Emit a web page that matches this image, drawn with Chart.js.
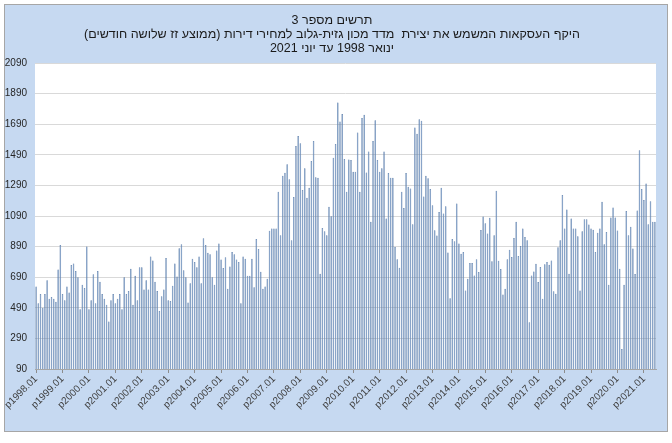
<!DOCTYPE html>
<html lang="he">
<head>
<meta charset="UTF-8">
<title>תרשים מספר 3</title>
<script src="https://cdn.jsdelivr.net/npm/chart.js@4.4.0/dist/chart.umd.min.js"></script>
<style>
  html, body { margin: 0; padding: 0; background: #ffffff; }
  #wrap { position: absolute; left: 0; top: 0; width: 672px; height: 443px; }
  #title {
    position: absolute; left: 0; top: 13px; width: 664px;
    font: 12.5px/14px "Liberation Sans", Arial, sans-serif;
    color: #1a1a1a;
  }
  #title div { direction: rtl; text-align: center; white-space: pre; }
</style>
</head>
<body>
<div id="wrap">
  <canvas id="myChart"></canvas>
  <div id="title"></div>
</div>
<script>
    // title lines, top to bottom
    const titleLines = [
        'תרשים מספר 3',
        'היקף העסקאות המשמש את יצירת  מדד מכון גזית-גלוב למחירי דירות (ממוצע זז שלושה חודשים)',
        'ינואר 1998 עד יוני 2021'
    ];

    const firstYear = 1998;
    const lastYear = 2021;
    const lastMonth = 6;

    // y axis tick labels
    const yTicks = [90, 290, 490, 690, 890, 1090, 1290, 1490, 1690, 1890, 2090];

    // monthly values, one row per year
    const deals = [
        630, 520, 580, 490, 580, 670, 550, 560, 550, 530, 740, 900,        // 1998
        580, 540, 630, 590, 770, 780, 730, 690, 480, 640, 620, 890,        // 1999
        480, 540, 710, 520, 730, 660, 580, 550, 510, 400, 540, 580,        // 2000
        520, 550, 580, 480, 690, 580, 600, 745, 510, 700, 540, 755,        // 2001
        755, 610, 670, 610, 825, 800, 660, 600, 470, 565, 610, 815,        // 2002
        540, 535, 635, 780, 695, 880, 905, 735, 690, 525, 650, 810,        // 2003
        790, 755, 825, 650, 945, 900, 850, 840, 690, 640, 865, 910,        // 2004
        805, 750, 820, 615, 760, 855, 840, 805, 790, 520, 825, 810,        // 2005
        700, 700, 810, 625, 940, 875, 725, 615, 630, 680, 993, 1008,       // 2006
        1008, 1008, 1248, 964, 1353, 1373, 1428, 1330, 932, 1215, 1548, 1613,  // 2007
        1565, 1260, 1402, 1209, 1274, 1450, 1580, 1344, 1340, 713, 1012, 990,  // 2008
        964, 1150, 1089, 1471, 1561, 1832, 1707, 1756, 1463, 1248, 1460, 1456, // 2009
        1380, 1380, 1635, 1248, 1730, 1751, 1375, 1511, 1052, 1580, 1716, 1456, // 2010
        1380, 1402, 1511, 1073, 1371, 1340, 1340, 888, 807, 752, 1248, 1143,   // 2011
        1371, 1281, 1270, 1036, 1668, 1627, 1723, 1712, 1218, 1353, 1336, 1266, // 2012
        1161, 997, 962, 1117, 1274, 1106, 1154, 851, 553, 940, 925, 1172,      // 2013
        910, 844, 855, 603, 680, 783, 783, 702, 807, 724, 999, 1087,           // 2014
        1043, 975, 1078, 794, 964, 1255, 798, 743, 577, 614, 807, 870,         // 2015
        822, 947, 1052, 829, 894, 1008, 953, 931, 396, 702, 728, 778,          // 2016
        658, 757, 549, 774, 789, 772, 800, 599, 582, 886, 931, 1227,           // 2017
        1008, 1133, 713, 1073, 1008, 1008, 958, 603, 990, 1069, 1069, 1034,    // 2018
        1008, 1001, 855, 980, 1008, 1183, 905, 986, 640, 1080, 1146, 1080,     // 2019
        995, 746, 221, 640, 1122, 964, 1019, 877, 711, 1126, 1519, 1266,       // 2020
        1194, 1303, 1036, 1187, 1052, 1052                                     // 2021
    ];

    // month labels like p1998.01
    const months = [];
    for (let y = firstYear; y <= lastYear; y++) {
        const end = (y === lastYear) ? lastMonth : 12;
        for (let m = 1; m <= end; m++) {
            months.push('p' + y + '.' + String(m).padStart(2, '0'));
        }
    }

    // hebrew title as page text, one line per div
    const titleBox = document.getElementById('title');
    titleLines.forEach(s => {
        const d = document.createElement('div');
        d.textContent = s;
        titleBox.appendChild(d);
    });

    // background box + white plot area
    const frame = {
        id: 'frame',
        beforeDraw(chart) {
            const c = chart.ctx;
            const a = chart.chartArea;
            c.save();
            c.fillStyle = '#ffffff';
            c.fillRect(0, 0, chart.width, chart.height);
            c.fillStyle = '#c6d9f1';
            c.strokeStyle = '#a6a6a6';
            c.lineWidth = 1;
            c.fillRect(4.5, 4.5, 663, 427);
            c.strokeRect(4.5, 4.5, 663, 427);
            c.fillStyle = '#ffffff';
            c.fillRect(a.left, a.top, a.right - a.left, a.bottom - a.top);
            c.restore();
        }
    };

    const ctx = document.getElementById('myChart').getContext('2d');
    const myChart = new Chart(ctx, {
        type: 'bar',
        data: {
            labels: months,
            datasets: [{
                data: deals,
                backgroundColor: '#6b8fbe',
                borderColor: '#4a6e9e',
                borderWidth: 0.5,
                barPercentage: 0.72,
                categoryPercentage: 1
            }]
        },
        plugins: [frame],
        options: {
            responsive: true,
            maintainAspectRatio: false,
            animation: false,
            layout: { padding: { top: 63, left: 4, right: 16, bottom: 32 } },
            plugins: {
                legend: { display: false },
                tooltip: { enabled: false },
                title: { display: false }
            },
            scales: {
                x: {
                    grid: {
                        display: true,
                        offset: false,
                        drawOnChartArea: false,
                        drawTicks: true,
                        tickLength: 4,
                        color: '#8c8c8c'
                    },
                    border: { display: true, color: '#a6a6a6' },
                    afterBuildTicks: function(scale) {
                        scale.ticks = scale.ticks.filter(t => t.value % 12 === 0);
                    },
                    afterFit: function(scale) {
                        scale.paddingLeft = 0;
                        scale.paddingRight = 0;
                    },
                    ticks: {
                        autoSkip: false,
                        minRotation: 45,
                        maxRotation: 45,
                        padding: 0,
                        color: '#404040',
                        font: { family: 'Liberation Sans', size: 10 },
                        callback: function(value) { return months[value]; }
                    }
                },
                y: {
                    min: yTicks[0],
                    max: yTicks[yTicks.length - 1],
                    afterBuildTicks: function(scale) {
                        scale.ticks = yTicks.map(v => ({ value: v }));
                    },
                    afterFit: function(scale) {
                        scale.width = 31;
                    },
                    grid: { color: '#d9d9d9', drawTicks: false },
                    border: { display: false },
                    ticks: {
                        padding: 8,
                        color: '#262626',
                        font: { family: 'Liberation Sans', size: 10 },
                        callback: function(value) { return String(value); }
                    }
                }
            }
        }
    });
</script>
</body>
</html>
